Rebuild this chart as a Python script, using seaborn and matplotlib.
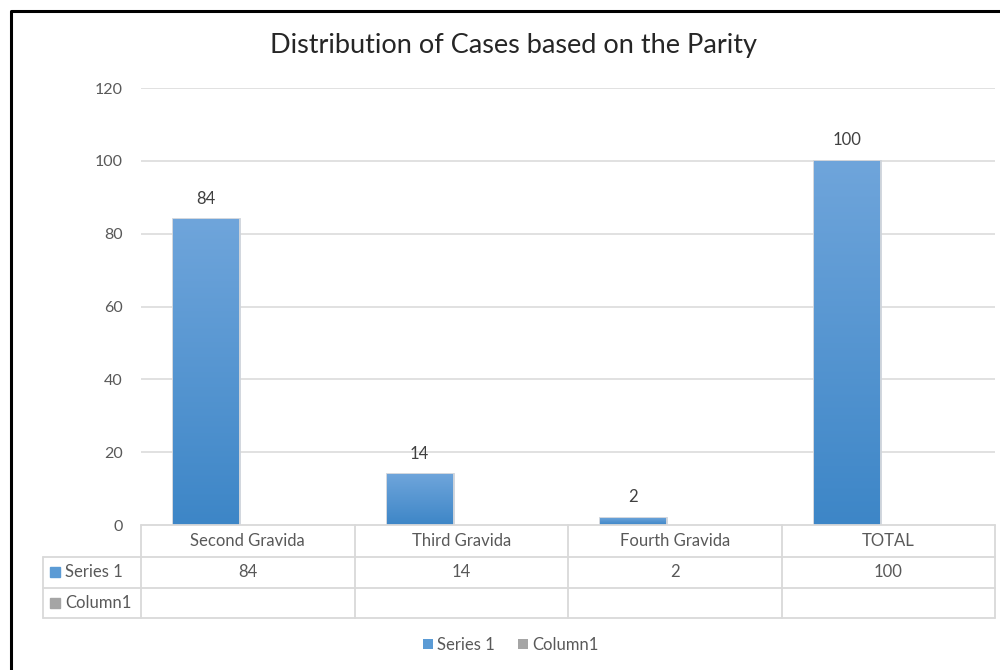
import numpy as np
import pandas as pd
import matplotlib
matplotlib.use("Agg")
import matplotlib.pyplot as plt
import matplotlib.transforms as mtransforms
from matplotlib.lines import Line2D
from matplotlib.patches import Patch
from matplotlib.colors import LinearSegmentedColormap
import seaborn as sns

# Chart data
categories = ["Second Gravida", "Third Gravida", "Fourth Gravida", "TOTAL"]
series_1 = [84, 14, 2, 100]
column_1 = [np.nan, np.nan, np.nan, np.nan]
series_names = ["Series 1", "Column1"]
y_ticks = [0, 20, 40, 60, 80, 100, 120]

BLUE = "#5b9bd5"
GRAY = "#a5a5a5"
GRID = "#d9d9d9"
TEXT = "#595959"
FS = 12

sns.set_theme(style="white")
plt.rcParams["font.family"] = ["Lato", "DejaVu Sans"]

df = pd.DataFrame({
    "category": categories * 2,
    "value": series_1 + column_1,
    "series": [series_names[0]] * len(categories) + [series_names[1]] * len(categories),
})

fig = plt.figure(figsize=(10, 6.7), dpi=100)
fig.patch.set_facecolor("white")
ax = fig.add_axes([0.141, 0.2164, 0.854, 0.652])

sns.barplot(data=df, x="category", y="value", hue="series", order=categories,
            hue_order=series_names, palette=[BLUE, GRAY], saturation=1,
            width=0.78, gap=0.21, errorbar=None, legend=False, ax=ax)

ax.set_xlim(-0.5, len(categories) - 0.5)
ax.set_ylim(0, 120)
ax.set_yticks(y_ticks)
ax.set_xticks([])
ax.set_xlabel("")
ax.set_ylabel("")
for s in ax.spines.values():
    s.set_visible(False)
ax.tick_params(axis="y", length=0, pad=13, labelsize=11.5, labelcolor=TEXT)
for t in y_ticks[1:]:
    ax.axhline(t, color=GRID, lw=1.1, zorder=0)

# Vertical gradient fill with a soft outline on each bar
grad = LinearSegmentedColormap.from_list("bar", ["#3d86c7", "#6fa5db"])
xlim, ylim = ax.get_xlim(), ax.get_ylim()
for p in ax.patches:
    h = p.get_height()
    if not np.isfinite(h) or h <= 0:
        continue
    p.set_edgecolor("#cdd3da")
    p.set_linewidth(2.0)
    x0, w = p.get_x(), p.get_width()
    img = ax.imshow(np.linspace(0, 1, 256).reshape(-1, 1), cmap=grad, origin="lower",
                    extent=(x0, x0 + w, 0, h), aspect="auto", zorder=p.get_zorder() + 0.1,
                    vmin=0, vmax=1)
    img.set_clip_path(p)
ax.set_xlim(xlim)
ax.set_ylim(ylim)

# Value labels above the bars
ax.bar_label(ax.containers[0], labels=[f"{v:g}" for v in series_1],
             padding=9, fontsize=FS, color="#404040")

# Data table under the plot
blend = mtransforms.blended_transform_factory(ax.transData, ax.transAxes)
ax_h = 437.0
rows_y = [0, -32 / ax_h, -63 / ax_h, -93 / ax_h]
left_x = -0.5 - 98 / 213.5
edges = [i - 0.5 for i in range(len(categories) + 1)]
lkw = dict(color=GRID, lw=1.3, transform=blend, clip_on=False)
ax.add_line(Line2D([edges[0], edges[-1]], [rows_y[0]] * 2, **lkw))
for ry in rows_y[1:]:
    ax.add_line(Line2D([left_x, edges[-1]], [ry, ry], **lkw))
for ex in edges:
    ax.add_line(Line2D([ex, ex], [rows_y[0], rows_y[-1]], **lkw))
ax.add_line(Line2D([left_x, left_x], [rows_y[1], rows_y[-1]], **lkw))

tkw = dict(transform=blend, ha="center", va="center", fontsize=FS, color=TEXT, clip_on=False)
mid = [(rows_y[i] + rows_y[i + 1]) / 2 for i in range(3)]
for i, (cat, v) in enumerate(zip(categories, series_1)):
    ax.text(i, mid[0], cat, **tkw)
    ax.text(i, mid[1], f"{v:g}", **tkw)

for r, (name, col) in enumerate(zip(series_names, [BLUE, GRAY])):
    ax.plot([left_x + 0.056], [mid[r + 1]], marker="s", ms=7, color=col,
            transform=blend, clip_on=False, linestyle="none")
    ax.text(left_x + 0.103, mid[r + 1], name, transform=blend, ha="left", va="center",
            fontsize=FS, color=TEXT, clip_on=False)

# Legend at the bottom
handles = [Patch(facecolor=BLUE, edgecolor="none", label=series_names[0]),
           Patch(facecolor=GRAY, edgecolor="none", label=series_names[1])]
leg = fig.legend(handles=handles, loc="center", bbox_to_anchor=(0.511, 1 - 645 / 670),
                 ncol=2, frameon=False, fontsize=FS, handlelength=0.6, handleheight=0.6,
                 handletextpad=0.25, columnspacing=1.4)
for t in leg.get_texts():
    t.set_color(TEXT)

fig.text(0.514, 1 - 46 / 670, "Distribution of Cases based on the Parity",
         ha="center", va="center", fontsize=19.5, color="#262626")

# Outer frame
fig.add_artist(Line2D([0.0105, 0.0105, 1.0], [0.0, 1 - 11 / 670, 1 - 11 / 670],
                      color="black", lw=2.2, transform=fig.transFigure))

fig.savefig("out.png", dpi=100, facecolor="white")
